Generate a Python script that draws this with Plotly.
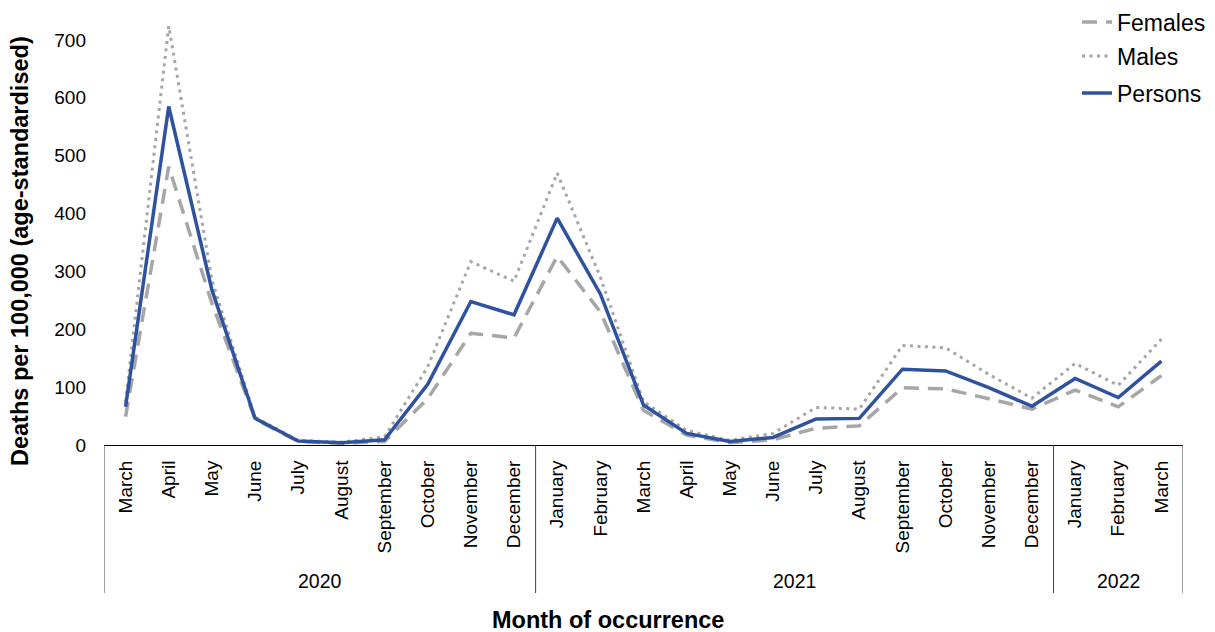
import plotly.graph_objects as go

months = ["March", "April", "May", "June", "July", "August", "September", "October",
          "November", "December",
          "January", "February", "March", "April", "May", "June", "July", "August",
          "September", "October", "November", "December",
          "January", "February", "March"]
years = ["2020"] * 10 + ["2021"] * 12 + ["2022"] * 3

females = [49, 481, 245, 45, 6, 3, 6, 80, 193, 185,
           326, 230, 60, 17, 4, 9, 29, 33, 99, 97, 80, 62,
           95, 66, 120]
males = [75, 724, 285, 48, 8, 5, 14, 135, 317, 283,
         470, 290, 75, 25, 8, 20, 65, 62, 172, 168, 122, 81,
         141, 103, 183]
persons = [66, 585, 268, 46, 7, 4, 9, 105, 248, 225,
           392, 261, 69, 20, 6, 13, 45, 46, 131, 128, 99, 67,
           115, 82, 145]

keys = [f"{y}-{m}" for y, m in zip(years, months)]

FONT = "Liberation Sans, Arial, sans-serif"
GREY = "#A6A6A6"
BLUE = "#2F529F"

# page body has an 8px margin; the figure is sized to fit the window
OFF = 8
W, H = 1215 - OFF, 632 - OFF
ml, mt = 104 - OFF, 11 - OFF
pw, ph = 1079, 434
mr = W - ml - pw
mb = H - mt - ph


def px(pix):
    return (pix - OFF - ml) / pw


def py(pix):
    return (H - mb - (pix - OFF)) / ph


def cx(pix):
    return (pix - OFF) / W


def cy(pix):
    return 1 - (pix - OFF) / H


fig = go.Figure()
fig.add_trace(go.Scatter(x=keys, y=females, name="Females", mode="lines", legend="legend",
                         line=dict(color=GREY, width=3.5, dash="15px,9px")))
fig.add_trace(go.Scatter(x=keys, y=males, name="Males", mode="lines", legend="legend2",
                         line=dict(color=GREY, width=3, dash="3px,4.5px")))
fig.add_trace(go.Scatter(x=keys, y=persons, name="Persons", mode="lines", legend="legend3",
                         line=dict(color=BLUE, width=3.5)))

# year groups: boundaries and label positions from the data
groups = []
start = 0
for i in range(1, len(years) + 1):
    if i == len(years) or years[i] != years[start]:
        groups.append((years[start], start, i - 1))
        start = i

shapes = []
bounds = [-0.5] + [g[2] + 0.5 for g in groups]
for b in bounds:
    shapes.append(dict(type="line", xref="x", yref="paper", x0=b, x1=b,
                       y0=0, y1=py(593), line=dict(color="#404040", width=1)))

annotations = []
for name, s, e in groups:
    annotations.append(dict(x=(s + e) / 2, y=py(581), xref="x", yref="paper",
                            text=name, showarrow=False,
                            font=dict(family=FONT, size=19.5, color="#000"),
                            xanchor="center", yanchor="middle"))

annotations.append(dict(x=px(608), y=py(620), xref="paper", yref="paper",
                        text="<b>Month of occurrence</b>", showarrow=False,
                        font=dict(family=FONT, size=23.5, color="#000"),
                        xanchor="center", yanchor="middle"))
annotations.append(dict(x=px(20), y=py(251), xref="paper", yref="paper",
                        text="<b>Deaths per 100,000 (age-standardised)</b>",
                        showarrow=False, textangle=-90,
                        font=dict(family=FONT, size=23.5, color="#000"),
                        xanchor="center", yanchor="middle"))

legend_common = dict(xanchor="left", yanchor="middle", xref="container", yref="container",
                     bgcolor="rgba(0,0,0,0)",
                     font=dict(family=FONT, size=23, color="#000"))

fig.update_layout(
    width=W, height=H,
    margin=dict(l=ml, r=mr, t=mt, b=mb, autoexpand=False),
    plot_bgcolor="white", paper_bgcolor="white",
    font=dict(family=FONT, size=19, color="#000"),
    showlegend=True,
    legend=dict(x=cx(1077), y=cy(22), **legend_common),
    legend2=dict(x=cx(1077), y=cy(56), **legend_common),
    legend3=dict(x=cx(1077), y=cy(93), **legend_common),
    shapes=shapes,
    annotations=annotations,
    xaxis=dict(type="category", tickmode="array", tickvals=keys, ticktext=months,
               tickangle=-90, showgrid=False, zeroline=False, showline=True,
               linecolor="#000", linewidth=1, ticks="", ticklabelstandoff=7,
               tickfont=dict(family=FONT, size=19, color="#000"),
               range=[-0.5, len(keys) - 0.5]),
    yaxis=dict(range=[0, 750], tickvals=[0, 100, 200, 300, 400, 500, 600, 700],
               showgrid=False, zeroline=False, showline=False, ticks="",
               ticklabelstandoff=17,
               tickfont=dict(family=FONT, size=19, color="#000")),
)

fig.write_html("out.html")
